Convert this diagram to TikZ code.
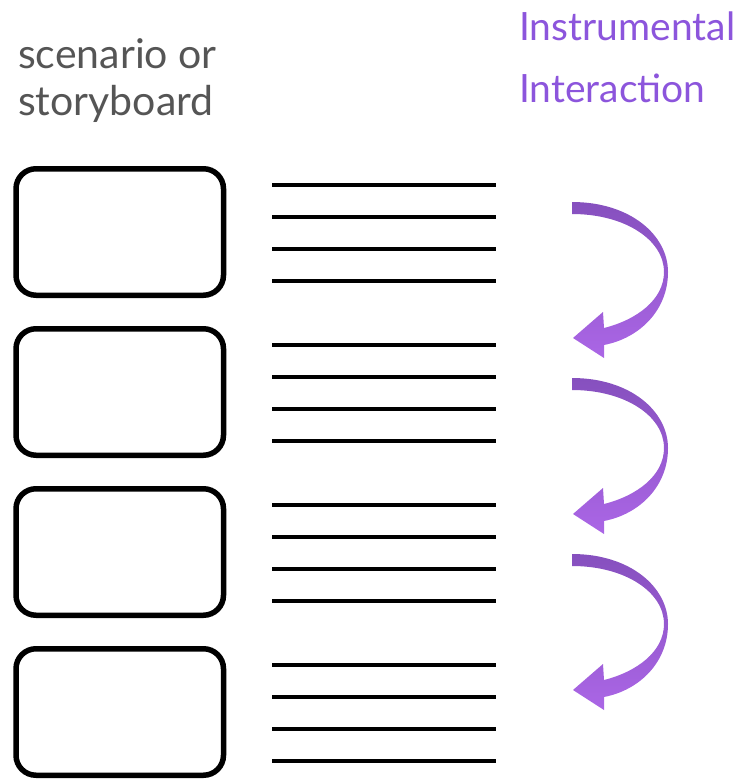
\documentclass[tikz,border=0pt]{standalone}
\usepackage{fontspec}
\setmainfont{Lato}
\begin{document}
\begin{tikzpicture}[x=1pt,y=-1pt,
  board/.style={draw=black, line width=5.5pt, rounded corners=20pt,
    minimum width=207.5pt, minimum height=126.5pt, inner sep=0pt},
  textline/.style={draw=black, line width=3.6pt},
  greylabel/.style={anchor=base west, inner sep=0pt, text=labelgrey,
    font=\fontsize{41}{44}\selectfont},
  purplelabel/.style={anchor=base west, inner sep=0pt, text=labelpurple,
    font=\fontsize{39}{42}\selectfont},
  turn/.style={top color=turntop, bottom color=turnbottom, draw=none}]
\definecolor{labelgrey}{HTML}{555555}
\definecolor{labelpurple}{HTML}{8C55DC}
\definecolor{turntop}{HTML}{8650BE}
\definecolor{turnbottom}{HTML}{AB66E6}
\useasboundingbox (0,0) rectangle (740,779);

% headings
\node[greylabel] (h1) at (18,68) {scenario or};
\node[greylabel] (h2) at (18,115) {storyboard};
\node[purplelabel] (h3) at (519,40) {Instrumental};
\node[purplelabel] (h4) at (519,102) {Interaction};

% storyboard frames with their text lines
\foreach \i in {0,1,2,3} {
  \node[board] (frame\i) at (119.75,{232+160*\i}) {};
  \foreach \j in {0,1,2,3} {
    \draw[textline] (272,{185+160*\i+32*\j}) -- (496,{185+160*\i+32*\j});
  }
}

% curved arrows between steps
\foreach \k in {0,1,2} {
  \begin{scope}[yshift={-176*\k}]
    \path[turn] (572,202)
      .. controls (630,202) and (668,235) .. (668,272)
      .. controls (668,310) and (640,338) .. (604,345)
      -- (604,358) -- (573,338) -- (603,312) -- (604,328)
      .. controls (636,320) and (664,300) .. (664,272)
      .. controls (664,240) and (625,214) .. (572,214) -- cycle;
  \end{scope}
}
\end{tikzpicture}
\end{document}
